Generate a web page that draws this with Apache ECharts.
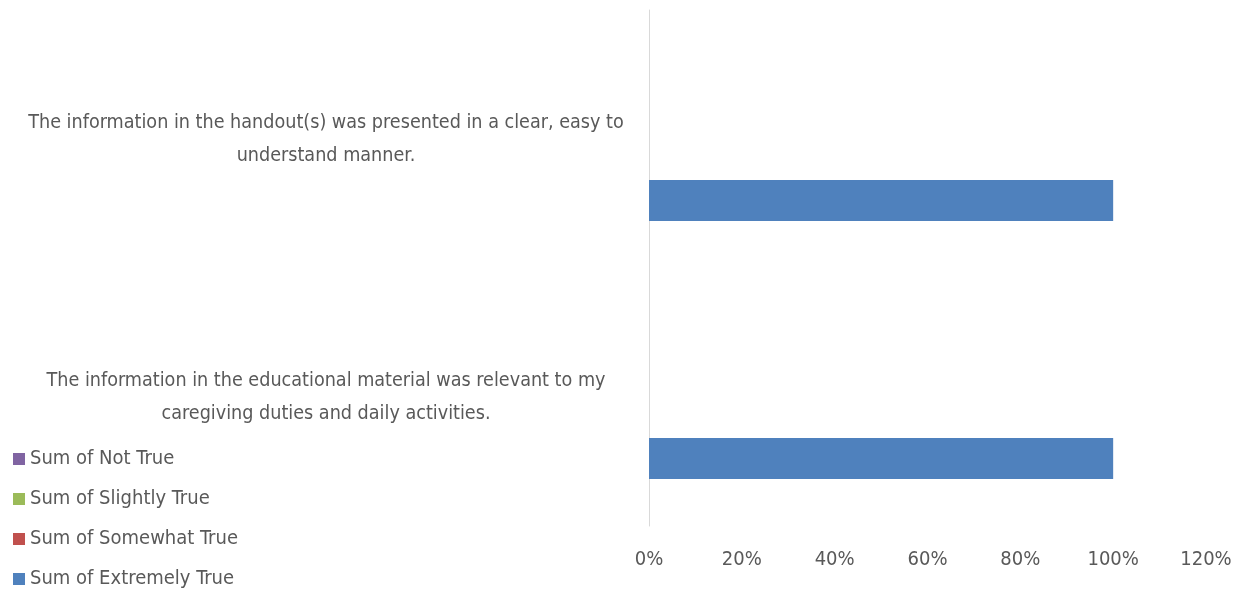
<!DOCTYPE html>
<html>
<head>
<meta charset="utf-8">
<script src="https://cdn.jsdelivr.net/npm/echarts@6/dist/echarts.min.js"></script>
<style>
  html, body { margin: 0; padding: 0; background: #fff; }
  #chart { width: 1245px; height: 592px; }
</style>
</head>
<body>
<div id="chart"></div>
<script>
// categories bottom -> top (category axis runs upward)
var categories = [
  'The information in the educational material was relevant to my\ncaregiving duties and daily activities.',
  'The information in the handout(s) was presented in a clear, easy to\nunderstand manner.'
];
var extremelyTrue = [1.0, 1.0];
var somewhatTrue = [0, 0];
var slightlyTrue = [0, 0];
var notTrue = [0, 0];
var legendOrder = ['Sum of Not True', 'Sum of Slightly True', 'Sum of Somewhat True', 'Sum of Extremely True'];

var font = '"Liberation Sans Narrow", "DejaVu Sans Condensed", sans-serif';
var textColor = '#595959';

var chartDom = document.getElementById('chart');
var myChart = echarts.init(chartDom);
var option;
option = {
  animation: false,
  textStyle: { fontFamily: font },
  legend: {
    orient: 'vertical',
    left: 13,
    top: 449,
    padding: 0,
    itemWidth: 12,
    itemHeight: 12,
    itemGap: 20,
    icon: 'rect',
    data: legendOrder,
    textStyle: { fontFamily: font, fontSize: 20, color: textColor }
  },
  grid: {
    left: 649,
    right: 39,
    top: 10,
    bottom: 66
  },
  xAxis: {
    type: 'value',
    min: 0,
    max: 1.2,
    interval: 0.2,
    axisLine: { show: false },
    axisTick: { show: false },
    splitLine: { show: false },
    axisLabel: {
      margin: 24,
      fontSize: 20,
      color: textColor,
      fontFamily: font,
      formatter: function (v) { return Math.round(v * 100) + '%'; }
    }
  },
  yAxis: {
    type: 'category',
    data: categories,
    axisLine: { show: true, lineStyle: { color: '#d9d9d9', width: 1 } },
    axisTick: { show: false },
    axisLabel: {
      margin: 323,
      align: 'center',
      fontSize: 19.6,
      lineHeight: 33,
      color: textColor,
      fontFamily: font
    }
  },
  // first series sits at the top of each group, so Not True goes first
  series: [
    {
      name: 'Sum of Not True',
      type: 'bar',
      data: notTrue,
      barWidth: 41,
      barGap: '0%',
      barCategoryGap: '36%',
      itemStyle: { color: '#8064A2' }
    },
    {
      name: 'Sum of Slightly True',
      type: 'bar',
      data: slightlyTrue,
      barWidth: 41,
      itemStyle: { color: '#9BBB59' }
    },
    {
      name: 'Sum of Somewhat True',
      type: 'bar',
      data: somewhatTrue,
      barWidth: 41,
      itemStyle: { color: '#C0504D' }
    },
    {
      name: 'Sum of Extremely True',
      type: 'bar',
      data: extremelyTrue,
      barWidth: 41,
      itemStyle: { color: '#4F81BD' }
    }
  ]
};
option && myChart.setOption(option);
</script>
</body>
</html>
